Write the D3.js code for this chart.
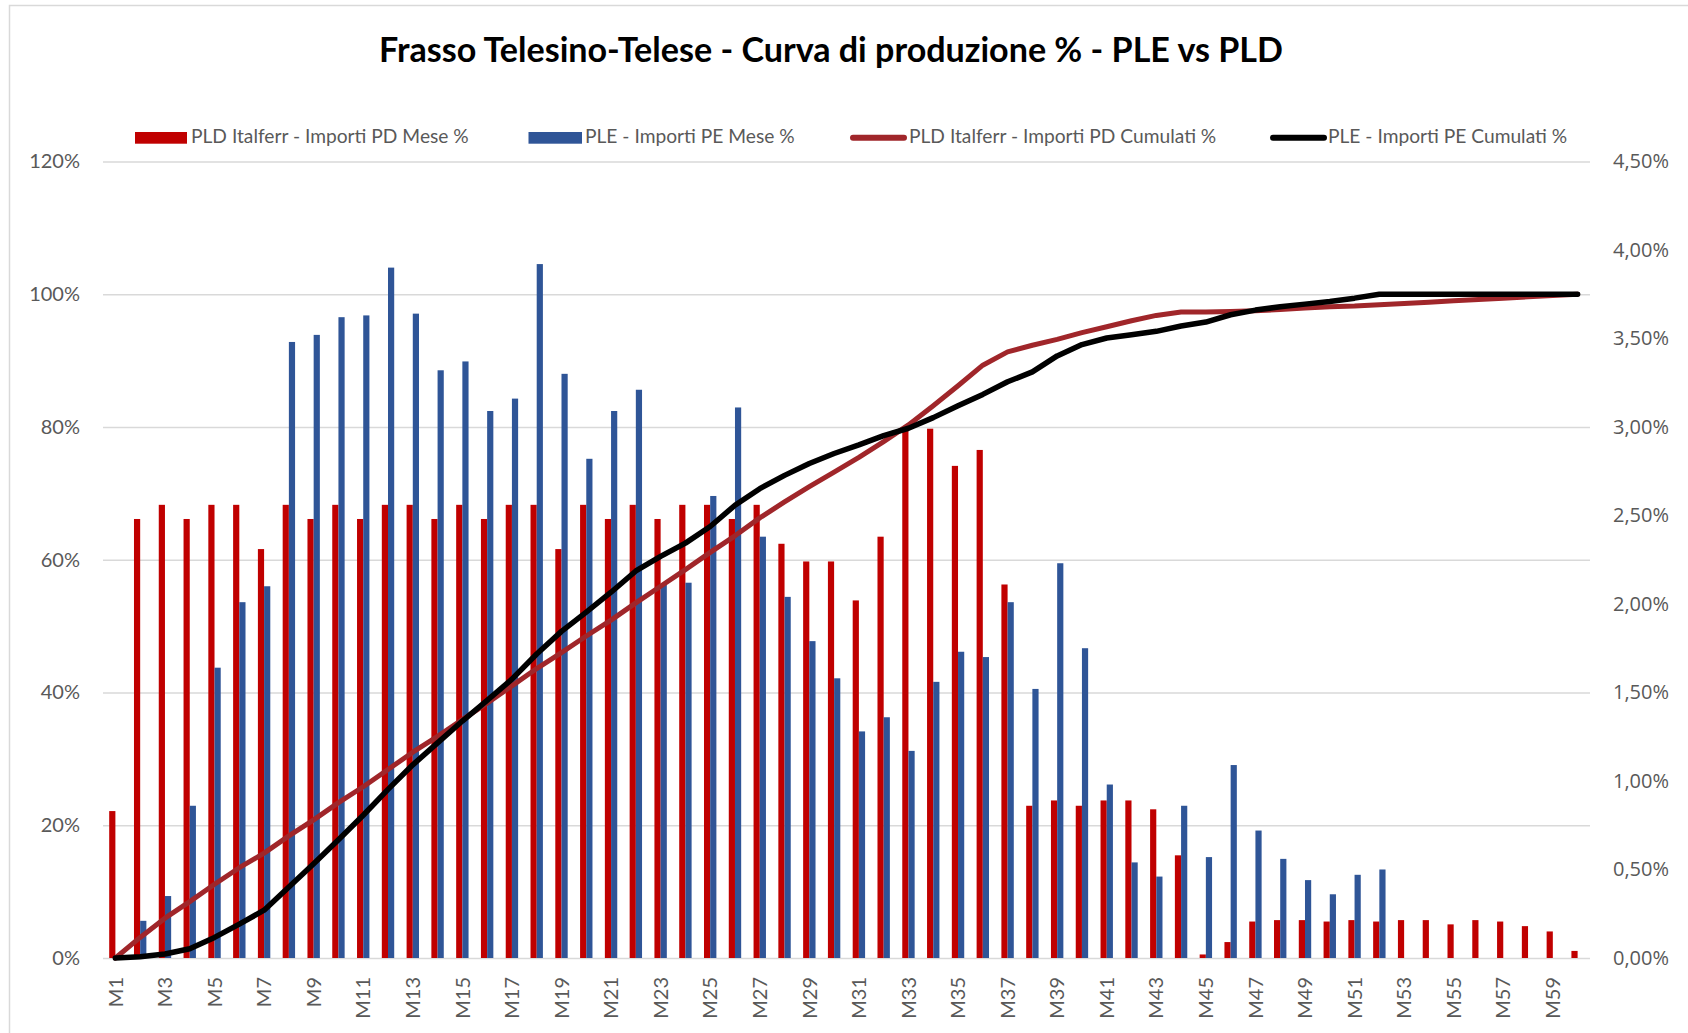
<!DOCTYPE html>
<html lang="it">
<head>
<meta charset="UTF-8">
<title>Frasso Telesino-Telese - Curva di produzione</title>
<script src="https://d3js.org/d3.v7.min.js"></script>
<style>
  body { margin: 0; background: #fff; }
  text { font-family: Lato, "Open Sans", sans-serif; }
</style>
</head>
<body>
<svg id="chart" width="1688" height="1033"></svg>
<script>
// Categories (months)
const months = ["M1","M2","M3","M4","M5","M6","M7","M8","M9","M10",
  "M11","M12","M13","M14","M15","M16","M17","M18","M19","M20",
  "M21","M22","M23","M24","M25","M26","M27","M28","M29","M30",
  "M31","M32","M33","M34","M35","M36","M37","M38","M39","M40",
  "M41","M42","M43","M44","M45","M46","M47","M48","M49","M50",
  "M51","M52","M53","M54","M55","M56","M57","M58","M59","M60"];

// Monthly % (right axis)
const pldMese = [0.83, 2.48, 2.56, 2.48, 2.56, 2.56, 2.31, 2.56, 2.48, 2.56,
  2.48, 2.56, 2.56, 2.48, 2.56, 2.48, 2.56, 2.56, 2.31, 2.56,
  2.48, 2.56, 2.48, 2.56, 2.56, 2.48, 2.56, 2.34, 2.24, 2.24,
  2.02, 2.38, 3.00, 2.99, 2.78, 2.87, 2.11, 0.86, 0.89, 0.86,
  0.89, 0.89, 0.84, 0.58, 0.02, 0.09, 0.206, 0.214, 0.214, 0.206,
  0.214, 0.206, 0.214, 0.214, 0.19, 0.214, 0.206, 0.18, 0.15, 0.04];
const pleMese = [0, 0.21, 0.35, 0.86, 1.64, 2.01, 2.10, 3.48, 3.52, 3.62,
  3.63, 3.90, 3.64, 3.32, 3.37, 3.09, 3.16, 3.92, 3.30, 2.82,
  3.09, 3.21, 2.11, 2.12, 2.61, 3.11, 2.38, 2.04, 1.79, 1.58,
  1.28, 1.36, 1.17, 1.56, 1.73, 1.70, 2.01, 1.52, 2.23, 1.75,
  0.98, 0.54, 0.46, 0.86, 0.57, 1.09, 0.72, 0.56, 0.44, 0.36,
  0.47, 0.50, null, null, null, null, null, null, null, null];

// Cumulative % (left axis)
const pldCum = [0, 3.1, 6.0, 8.5, 11.1, 13.6, 15.8, 18.4, 20.8, 23.4,
  25.8, 28.4, 31.0, 33.4, 35.9, 38.4, 41.0, 43.6, 46.0, 48.5,
  50.9, 53.5, 56.0, 58.5, 61.1, 63.6, 66.3, 68.7, 71.0, 73.2,
  75.4, 77.8, 80.3, 83.2, 86.2, 89.3, 91.3, 92.3, 93.2, 94.2,
  95.1, 96.0, 96.8, 97.3, 97.3, 97.4, 97.5, 97.7, 97.9, 98.1,
  98.2, 98.4, 98.6, 98.8, 99.0, 99.2, 99.4, 99.6, 99.8, 100];
const pleCum = [0, 0.2, 0.6, 1.4, 3.1, 5.1, 7.2, 10.7, 14.2, 17.8,
  21.5, 25.4, 29.1, 32.4, 35.7, 38.8, 42.0, 45.8, 49.2, 52.1,
  55.1, 58.3, 60.5, 62.5, 65.0, 68.2, 70.7, 72.7, 74.5, 76.0,
  77.3, 78.7, 79.8, 81.4, 83.2, 84.9, 86.8, 88.3, 90.7, 92.4,
  93.4, 93.9, 94.4, 95.2, 95.8, 96.9, 97.6, 98.1, 98.5, 98.9,
  99.4, 100, 100, 100, 100, 100, 100, 100, 100, 100];

// Tick labels
const leftTicks = [0, 20, 40, 60, 80, 100, 120];
const rightTicks = [0, 0.5, 1, 1.5, 2, 2.5, 3, 3.5, 4, 4.5];
const xTickLabels = months.filter((m, i) => i % 2 === 0);

const seriesNames = [
  "PLD Italferr - Importi PD Mese %",
  "PLE - Importi PE Mese %",
  "PLD Italferr - Importi PD Cumulati %",
  "PLE - Importi PE Cumulati %"
];

const red = "#C00000", blue = "#2F5597", darkRed = "#A0262A", black = "#000000";
const gridColor = "#D9D9D9", labelColor = "#595959";

const svg = d3.select("#chart");

// chart frame
svg.append("rect")
  .attr("x", 9.5).attr("y", 5.5)
  .attr("width", 1700).attr("height", 1100)
  .attr("fill", "#fff")
  .attr("stroke", gridColor).attr("stroke-width", 1.5);

const plotL = 103, plotR = 1590, plotT = 161.4, plotB = 958;

const x = d3.scaleBand().domain(months).range([plotL, plotR]).padding(0);
const yL = d3.scaleLinear().domain([0, 120]).range([plotB, plotT]);
const yR = d3.scaleLinear().domain([0, 4.5]).range([plotB, plotT]);

// gridlines + left labels
const gLeft = svg.append("g").attr("transform", `translate(${plotL},0)`)
  .call(d3.axisLeft(yL).tickValues(leftTicks)
    .tickSize(-(plotR - plotL)).tickPadding(23)
    .tickFormat(d => d + "%"));
gLeft.select(".domain").remove();
gLeft.selectAll(".tick line").attr("stroke", gridColor).attr("stroke-width", 1.5);
gLeft.selectAll(".tick text")
  .attr("fill", labelColor).style("font-size", "20px").style("font-family", "Lato");

// right labels
const gRight = svg.append("g").attr("transform", `translate(${plotR},0)`)
  .call(d3.axisRight(yR).tickValues(rightTicks).tickSize(0).tickPadding(23)
    .tickFormat(d => d3.format(".2f")(d).replace(".", ",") + "%"));
gRight.select(".domain").remove();
gRight.selectAll(".tick text")
  .attr("fill", labelColor).style("font-size", "20px").style("font-family", "'Open Sans'");

// x axis labels
const gX = svg.append("g").attr("transform", `translate(0,${plotB})`)
  .call(d3.axisBottom(x).tickValues(xTickLabels).tickSize(0));
gX.select(".domain").remove();
gX.selectAll(".tick text")
  .attr("fill", labelColor).style("font-size", "20px").style("font-family", "Lato")
  .attr("text-anchor", "end")
  .attr("transform", "rotate(-90)")
  .attr("x", -19).attr("y", 0).attr("dy", "0.36em");

// bars
const bw = x.bandwidth() / 4;
const mid = m => x(m) + x.bandwidth() / 2;

svg.append("g").selectAll("rect")
  .data(months.map((m, i) => ({ m, v: pldMese[i] })))
  .join("rect")
  .attr("x", d => mid(d.m) - bw)
  .attr("width", bw)
  .attr("y", d => yR(d.v))
  .attr("height", d => plotB - yR(d.v))
  .attr("fill", red);

svg.append("g").selectAll("rect")
  .data(months.map((m, i) => ({ m, v: pleMese[i] })).filter(d => d.v))
  .join("rect")
  .attr("x", d => mid(d.m))
  .attr("width", bw)
  .attr("y", d => yR(d.v))
  .attr("height", d => plotB - yR(d.v))
  .attr("fill", blue);

// cumulative lines
const line = d3.line().x((d, i) => mid(months[i])).y(d => yL(d));

svg.append("path")
  .attr("d", line(pldCum))
  .attr("fill", "none").attr("stroke", darkRed)
  .attr("stroke-width", 5).attr("stroke-linejoin", "round").attr("stroke-linecap", "round");

svg.append("path")
  .attr("d", line(pleCum))
  .attr("fill", "none").attr("stroke", black)
  .attr("stroke-width", 5.5).attr("stroke-linejoin", "round").attr("stroke-linecap", "round");

// title
const title = svg.append("text")
  .attr("x", 831).attr("y", 61.5)
  .attr("text-anchor", "middle")
  .style("font-family", "Lato").style("font-weight", "bold")
  .style("font-size", "32px").attr("fill", "#000")
  .text("Frasso Telesino-Telese - Curva di produzione % - PLE vs PLD");
const tw = title.node().getComputedTextLength();
title.style("font-size", (32 * 904 / tw).toFixed(2) + "px");

// legend
const legend = svg.append("g");
const legendY = 143;
const items = [
  { kind: "rect", color: red, x0: 135, x1: 187, tx: 191 },
  { kind: "rect", color: blue, x0: 528.5, x1: 582, tx: 585 },
  { kind: "line", color: darkRed, x0: 853, x1: 904, tx: 909 },
  { kind: "line", color: black, x0: 1273, x1: 1324, tx: 1328 }
];
items.forEach((it, i) => {
  if (it.kind === "rect") {
    legend.append("rect")
      .attr("x", it.x0).attr("y", 132)
      .attr("width", it.x1 - it.x0).attr("height", 11.7)
      .attr("fill", it.color);
  } else {
    legend.append("line")
      .attr("x1", it.x0).attr("x2", it.x1)
      .attr("y1", 137.7).attr("y2", 137.7)
      .attr("stroke", it.color).attr("stroke-width", 6)
      .attr("stroke-linecap", "round");
  }
  legend.append("text")
    .attr("x", it.tx).attr("y", legendY)
    .attr("fill", labelColor)
    .style("font-size", "17.5px").style("font-family", "Lato")
    .text(seriesNames[i]);
});
// fit legend font to first item width
const lt = legend.selectAll("text");
const lw = lt.nodes()[0].getComputedTextLength();
lt.style("font-size", (17.5 * 278 / lw).toFixed(2) + "px");
</script>
</body>
</html>
